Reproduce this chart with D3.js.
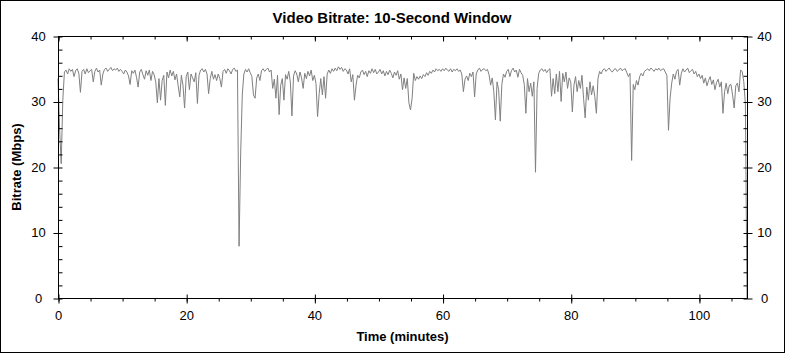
<!DOCTYPE html>
<html>
<head>
<meta charset="utf-8">
<script src="https://cdn.jsdelivr.net/npm/d3@7"></script>
<style>
	body { margin: 0; background: #fff; }
	text { font-family: "Liberation Sans", Arial, sans-serif; fill: #000; }
	.domain { display: none; }
</style>
</head>
<body>
<div id="chart"></div>
<script>
const width = 785;
const height = 353;

/*
Data: average bitrate (Mbps), one reading every quarter minute
*/
const sampleStep = 0.25;
const bitrate = [
	33.5, 25.8, 20.5, 30.2, 34.5, 34.8, 34.2, 35.0, 34.6, 34.9, 33.8, 34.7, 35.0, 34.3, 31.4, 34.6, 34.9, 34.2, 35.0, 34.4,
	34.7, 34.9, 33.0, 34.6, 35.1, 34.5, 34.8, 32.5, 34.2, 34.9, 35.1, 34.6, 34.9, 35.2, 34.7, 35.0, 34.8, 35.1, 34.6, 34.9,
	34.6, 34.2, 34.8, 34.5, 33.9, 32.6, 34.7, 34.3, 34.8, 33.7, 32.2, 34.5, 34.9, 34.1, 33.4, 34.7, 34.0, 34.8, 33.2, 34.6,
	34.1, 33.0, 29.8, 33.5, 30.2, 33.2, 34.0, 29.4, 34.5, 33.6, 34.8, 33.9, 34.6, 33.3, 34.2, 32.4, 30.7, 34.0, 32.5, 29.0,
	33.8, 34.5, 31.8, 34.2, 33.6, 33.0, 34.4, 29.7, 34.0, 34.8, 35.0, 34.5, 34.9, 34.2, 31.2, 33.5, 34.6, 33.4, 34.1, 33.2,
	34.2, 33.5, 32.2, 34.6, 34.9, 34.3, 35.0, 34.7, 34.2, 34.9, 35.1, 34.6, 34.8, 7.9, 22.0, 31.0, 34.2, 34.9, 34.5, 35.0,
	34.4, 33.8, 31.0, 30.5, 33.6, 34.2, 33.2, 34.7, 35.0, 34.6, 34.9, 35.1, 34.5, 34.8, 32.0, 33.4, 30.5, 34.0, 28.0, 32.5,
	33.5, 30.2, 34.1, 33.4, 34.6, 33.0, 27.8, 33.9, 34.7, 34.2, 33.0, 34.5, 33.6, 32.0, 34.3, 33.5, 34.6, 33.9, 34.8, 33.2,
	34.0, 32.8, 27.7, 31.2, 33.5, 31.0, 33.8, 30.5, 34.2, 34.8, 34.3, 35.0, 34.6, 35.1, 34.7, 35.3, 34.9, 35.2, 34.6, 35.0,
	34.8, 34.2, 35.0, 33.0, 34.1, 30.2, 32.5, 34.0, 33.6, 34.5, 34.8, 34.1, 34.6, 33.8, 34.7, 34.3, 35.0, 34.4, 34.9, 34.2,
	34.5, 34.9, 34.2, 34.7, 33.9, 34.6, 34.1, 34.8, 34.3, 33.6, 34.5, 34.0, 34.7, 33.4, 34.2, 31.8, 33.6, 32.0, 33.5, 29.8,
	28.7, 30.5, 34.3, 33.2, 33.8, 33.4, 33.9, 33.5, 34.1, 33.8, 34.4, 34.0, 34.6, 34.3, 34.8, 34.5, 35.0, 34.7, 34.9, 34.6,
	35.0, 34.7, 35.1, 34.8, 34.6, 35.0, 34.5, 34.9, 34.7, 35.0, 34.6, 34.8, 34.2, 31.5, 33.4, 33.9, 33.2, 34.3, 33.8, 34.5,
	30.7, 34.2, 34.8, 35.1, 34.6, 34.9, 35.0, 34.7, 34.9, 34.1, 32.5, 33.6, 31.5, 27.2, 33.0, 31.8, 27.0, 32.6, 34.2, 33.7,
	34.6, 34.9, 33.8, 34.7, 35.1, 34.5, 34.8, 33.7, 34.9, 34.4, 34.0, 32.6, 28.2, 33.5, 31.5, 32.8, 30.8, 33.0, 19.2, 32.0,
	34.3, 34.8, 35.0, 34.6, 34.9, 34.4, 34.8, 35.0, 30.8, 33.5, 31.2, 34.2, 31.5, 34.6, 30.0, 34.3, 33.0, 34.5, 32.0, 33.6,
	33.0, 28.4, 32.5, 33.8, 31.5, 33.2, 32.0, 34.0, 30.5, 27.5, 32.2, 30.2, 33.0, 31.0, 32.4, 30.8, 28.2, 33.5, 34.6, 34.2,
	34.8, 35.0, 34.6, 34.9, 35.1, 34.7, 34.5, 34.9, 35.0, 34.6, 34.8, 35.1, 34.7, 34.9, 35.0, 34.4, 33.8, 34.3, 21.0, 32.6,
	31.8, 33.2, 32.5, 33.8, 34.3, 33.9, 34.6, 34.8, 35.0, 34.7, 35.1, 34.9, 34.6, 35.0, 34.8, 35.1, 34.7, 34.9, 35.0, 34.5,
	34.0, 25.6, 30.5, 32.8, 34.2, 33.4, 34.6, 34.9, 32.5, 34.3, 35.0, 34.5, 34.8, 35.1, 34.4, 34.7, 34.9, 34.2, 34.6, 33.8,
	34.2, 33.5, 34.0, 32.8, 33.6, 32.4, 33.2, 33.8, 32.6, 33.3, 31.8, 32.9, 33.4, 32.2, 33.0, 28.2, 31.5, 32.8, 31.2, 32.5,
	32.6, 31.0, 29.0, 32.4, 32.8, 31.5, 34.8, 34.6, 33.0, 29.6, 0
];
const minutes = bitrate.map((d, i) => i * sampleStep);

const xMajorTicks = [0, 20, 40, 60, 80, 100];
const xMinorTicks = d3.range(0, 107, 5);
const yMajorTicks = [0, 10, 20, 30, 40];
const yMinorTicks = d3.range(0, 41, 2);

/*
SVG and frame
*/
const margin = {top: 36, right: 38, bottom: 55, left: 58};
const plotW = width - margin.left - margin.right;
const plotH = height - margin.top - margin.bottom;

const svg = d3.select("#chart")
	.append("svg")
	.attr("width", width)
	.attr("height", height);

svg.append("rect")
	.attr("x", 0.5)
	.attr("y", 0.5)
	.attr("width", width - 1)
	.attr("height", height - 1)
	.attr("fill", "#fff")
	.attr("stroke", "#000");

const x = d3.scaleLinear()
	.domain([0, 107.5])
	.range([margin.left, margin.left + plotW]);
const y = d3.scaleLinear()
	.domain([0, 40])
	.range([margin.top + plotH, margin.top]);

/*
Bitrate line
*/
const line = d3.line()
	.x((d, i) => x(minutes[i]))
	.y((d) => y(d));

svg.append("path")
	.datum(bitrate)
	.attr("d", line)
	.attr("fill", "none")
	.attr("stroke", "#808080")
	.attr("stroke-width", 1);

/*
Axes: major ticks cross the frame, minor ticks sit on one side
*/
const x0 = x.range()[0], x1 = x.range()[1];
const y0 = y.range()[0], y1 = y.range()[1];

svg.append("rect")
	.attr("x", x0 + 0.5)
	.attr("y", y1 + 0.5)
	.attr("width", x1 - x0)
	.attr("height", y0 - y1)
	.attr("fill", "none")
	.attr("stroke", "#000");

function tickOnly(axis, g) {
	g.call(axis);
	g.selectAll("text").remove();
	g.selectAll("line").attr("stroke", "#000");
	return g;
}

// left
tickOnly(d3.axisLeft(y).tickValues(yMajorTicks).tickSize(5),
	svg.append("g").attr("transform", `translate(${x0 + 0.5},0.5)`));
tickOnly(d3.axisRight(y).tickValues(yMinorTicks).tickSize(4),
	svg.append("g").attr("transform", `translate(${x0 + 0.5},0.5)`));
// right
tickOnly(d3.axisRight(y).tickValues(yMajorTicks).tickSize(5),
	svg.append("g").attr("transform", `translate(${x1 + 0.5},0.5)`));
tickOnly(d3.axisLeft(y).tickValues(yMinorTicks).tickSize(4),
	svg.append("g").attr("transform", `translate(${x1 + 0.5},0.5)`));
// bottom
tickOnly(d3.axisBottom(x).tickValues(xMajorTicks).tickSize(5),
	svg.append("g").attr("transform", `translate(0.5,${y0 + 0.5})`));
tickOnly(d3.axisTop(x).tickValues(xMajorTicks).tickSize(4),
	svg.append("g").attr("transform", `translate(0.5,${y0 + 0.5})`));
tickOnly(d3.axisBottom(x).tickValues(xMinorTicks).tickSize(3),
	svg.append("g").attr("transform", `translate(0.5,${y0 + 0.5})`));
// top
tickOnly(d3.axisBottom(x).tickValues(xMajorTicks).tickSize(5),
	svg.append("g").attr("transform", `translate(0.5,${y1 + 0.5})`));
tickOnly(d3.axisBottom(x).tickValues(xMinorTicks).tickSize(3),
	svg.append("g").attr("transform", `translate(0.5,${y1 + 0.5})`));

/*
Tick labels
*/
svg.append("g")
	.selectAll("text")
	.data(yMajorTicks)
	.enter()
	.append("text")
	.attr("x", 38.5)
	.attr("y", (d) => y(d))
	.attr("dy", "0.36em")
	.attr("text-anchor", "middle")
	.style("font-size", "13px")
	.text((d) => d);
svg.append("g")
	.selectAll("text")
	.data(yMajorTicks)
	.enter()
	.append("text")
	.attr("x", 764.5)
	.attr("y", (d) => y(d))
	.attr("dy", "0.36em")
	.attr("text-anchor", "middle")
	.style("font-size", "13px")
	.text((d) => d);
svg.append("g")
	.selectAll("text")
	.data(xMajorTicks)
	.enter()
	.append("text")
	.attr("x", (d) => x(d) + 0.5)
	.attr("y", 320)
	.attr("text-anchor", "middle")
	.style("font-size", "13px")
	.text((d) => d);

/*
Titles
*/
svg.append("text")
	.attr("x", 392)
	.attr("y", 23)
	.attr("text-anchor", "middle")
	.style("font-size", "15px")
	.style("font-weight", "bold")
	.text("Video Bitrate: 10-Second Window");
svg.append("text")
	.attr("x", (x0 + x1) / 2)
	.attr("y", 341)
	.attr("text-anchor", "middle")
	.style("font-size", "13px")
	.style("font-weight", "bold")
	.text("Time (minutes)");
svg.append("text")
	.attr("transform", `translate(20.5,${(y0 + y1) / 2}) rotate(-90)`)
	.attr("text-anchor", "middle")
	.style("font-size", "13px")
	.style("font-weight", "bold")
	.text("Bitrate (Mbps)");
</script>
</body>
</html>
